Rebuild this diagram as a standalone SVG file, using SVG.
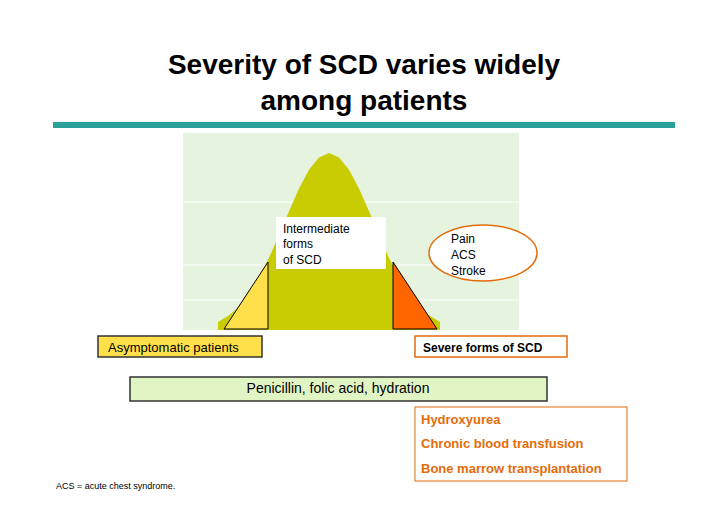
<svg xmlns="http://www.w3.org/2000/svg" width="728" height="515" viewBox="0 0 728 515">
<style>
text{font-family:"Liberation Sans",Arial,sans-serif}
.t{font-size:12px;fill:#000}
.o{font-size:13px;font-weight:bold;fill:#e46c0a}
</style>
<rect width="728" height="515" fill="#fff"/>
<g id="title">
<text x="364" y="74" text-anchor="middle" font-size="28" font-weight="bold">Severity of SCD varies widely</text>
<text x="364" y="110" text-anchor="middle" font-size="28" font-weight="bold">among patients</text>
<rect x="53" y="122" width="622" height="6" fill="#2aa198"/>
</g>
<g id="chart">
<rect x="183" y="133" width="336" height="197" fill="#e6f4df"/>
<g stroke="#fff" stroke-width="1"><line x1="183" y1="202" x2="519" y2="202"/><line x1="183" y1="265" x2="519" y2="265"/><line x1="183" y1="300" x2="519" y2="300"/></g>
<path d="M218,330 L218,322 L229,315.3 L239,306.5 L249,294 L259,277.8 L269,257.8 L279,235 L289,211.2 L299,188.6 L309,169.8 L319,157.4 L329,153 L339,157.4 L349,169.8 L359,188.6 L369,211.2 L379,235 L389,257.8 L399,277.8 L409,294 L419,306.5 L429,315.3 L440,322 L440,330 Z" fill="#c8cc00"/>
<path d="M224,329 L268,262 L268,329 Z" fill="#ffe04a" stroke="#000" stroke-width="1"/>
<path d="M393,262 L437,329 L393,329 Z" fill="#ff6600" stroke="#000" stroke-width="1"/>
</g>
<g id="intermediate">
<rect x="276" y="217" width="110" height="52" fill="#fff"/>
<text class="t" x="283" y="233">Intermediate</text>
<text class="t" x="283" y="248">forms</text>
<text class="t" x="283" y="264">of SCD</text>
</g>
<g id="complications">
<ellipse cx="483" cy="253" rx="54" ry="28" fill="#fff" stroke="#e46c0a" stroke-width="1.5"/>
<text class="t" x="451" y="243">Pain</text>
<text class="t" x="451" y="259">ACS</text>
<text class="t" x="451" y="275">Stroke</text>
</g>
<g id="asymptomatic">
<rect x="98" y="336" width="164" height="21" fill="#ffe04a" stroke="#333" stroke-width="1.5"/>
<text x="108" y="352" font-size="13">Asymptomatic patients</text>
</g>
<g id="severe">
<rect x="415" y="336" width="152" height="21" fill="#fff" stroke="#e46c0a" stroke-width="1.5"/>
<text x="423" y="352" font-size="12" font-weight="bold">Severe forms of SCD</text>
</g>
<g id="penicillin">
<rect x="130" y="377" width="417" height="24" fill="#e1f5c4" stroke="#333" stroke-width="1.5"/>
<text x="338" y="393" font-size="14" text-anchor="middle">Penicillin, folic acid, hydration</text>
</g>
<g id="treatments">
<rect x="415" y="407" width="212" height="74" fill="#fff" stroke="#e46c0a" stroke-width="1"/>
<text class="o" x="421" y="424">Hydroxyurea</text>
<text class="o" x="421" y="448">Chronic blood transfusion</text>
<text class="o" x="421" y="473">Bone marrow transplantation</text>
</g>
<text x="56" y="489" font-size="9">ACS = acute chest syndrome.</text>
<g id="connectors"/>
</svg>
